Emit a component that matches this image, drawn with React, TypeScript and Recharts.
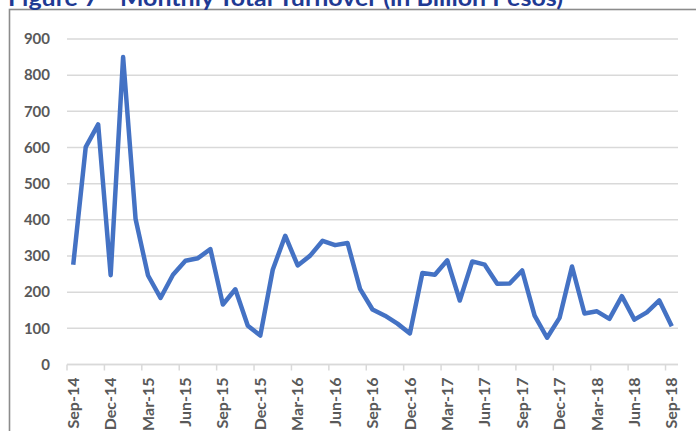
import { LineChart, Line, XAxis, YAxis, CartesianGrid } from "recharts";

const monthNames = ["Jan", "Feb", "Mar", "Apr", "May", "Jun", "Jul", "Aug", "Sep", "Oct", "Nov", "Dec"];

// Sep-14 .. Sep-18
const months: string[] = [];
for (let i = 0; i < 49; i++) {
  const m = (8 + i) % 12;
  const y = 14 + Math.floor((8 + i) / 12);
  months.push(`${monthNames[m]}-${y}`);
}

const turnover = [
  276, 601, 664, 247, 850, 402, 246, 184, 248, 287, 294, 319, 166, 208, 107, 80,
  262, 356, 274, 301, 342, 330, 336, 209, 152, 135, 113, 86, 253, 248, 288, 177,
  285, 276, 223, 224, 260, 135, 74, 129, 271, 141, 147, 126, 189, 124, 144, 177, 106,
];

const yTicks = [0, 100, 200, 300, 400, 500, 600, 700, 800, 900];

const data = months.map((month, i) => ({ month, value: turnover[i] }));

const labelColor = "#595959";
const gridColor = "#D9D9D9";
const halfCat = 611 / 49 / 2;

function MonthTick({ x, y, payload }: any) {
  const axisY = y - 13;
  return (
    <g>
      <line x1={x - halfCat} x2={x - halfCat} y1={axisY} y2={axisY + 6} stroke={gridColor} strokeWidth={1.5} />
      <text
        transform={`translate(${x},${y}) rotate(-90)`}
        textAnchor="end"
        dy="0.35em"
        fill={labelColor}
        fontSize={16}
        fontWeight={700}
        fontFamily="Lato, sans-serif"
      >
        {payload.value}
      </text>
    </g>
  );
}

export default function App() {
  return (
    <div style={{ position: "absolute", left: 0, top: 0, width: 696, height: 431, overflow: "hidden", background: "#fff" }}>
      <svg width={696} height={431} style={{ position: "absolute", left: 0, top: 0 }}>
        <rect x={9.5} y={9.5} width={720} height={440} fill="none" stroke="#8C8C8C" strokeWidth={1.6} />
        <text x={8} y={6} textLength={555} lengthAdjust="spacingAndGlyphs" fontSize={22} fontWeight={700} fontFamily="Lato, sans-serif" fill="#1F3A93">
          Figure 7 - Monthly Total Turnover (in Billion Pesos)
        </text>
      </svg>
      <div style={{ position: "absolute", left: 0, top: 0 }}>
        <LineChart width={696} height={431} data={data} margin={{ top: 39, right: 18, bottom: 0, left: 0 }}>
          <CartesianGrid vertical={false} stroke={gridColor} strokeWidth={1.5} />
          <XAxis
            dataKey="month"
            interval={2}
            padding={{ left: halfCat, right: halfCat }}
            axisLine={{ stroke: gridColor, strokeWidth: 1.5 }}
            tickLine={false}
            tickSize={6}
            tickMargin={7}
            height={66.5}
            tick={<MonthTick />}
          />
          <YAxis
            domain={[0, 900]}
            ticks={yTicks}
            width={67}
            axisLine={false}
            tickLine={false}
            tickSize={6}
            tickMargin={11}
            tick={{ fill: labelColor, fontSize: 15, fontWeight: 700, fontFamily: "Lato, sans-serif" }}
          />
          <Line
            type="linear"
            dataKey="value"
            stroke="#4472C4"
            strokeWidth={4.5}
            strokeLinejoin="round"
            dot={false}
            isAnimationActive={false}
          />
        </LineChart>
      </div>
    </div>
  );
}
